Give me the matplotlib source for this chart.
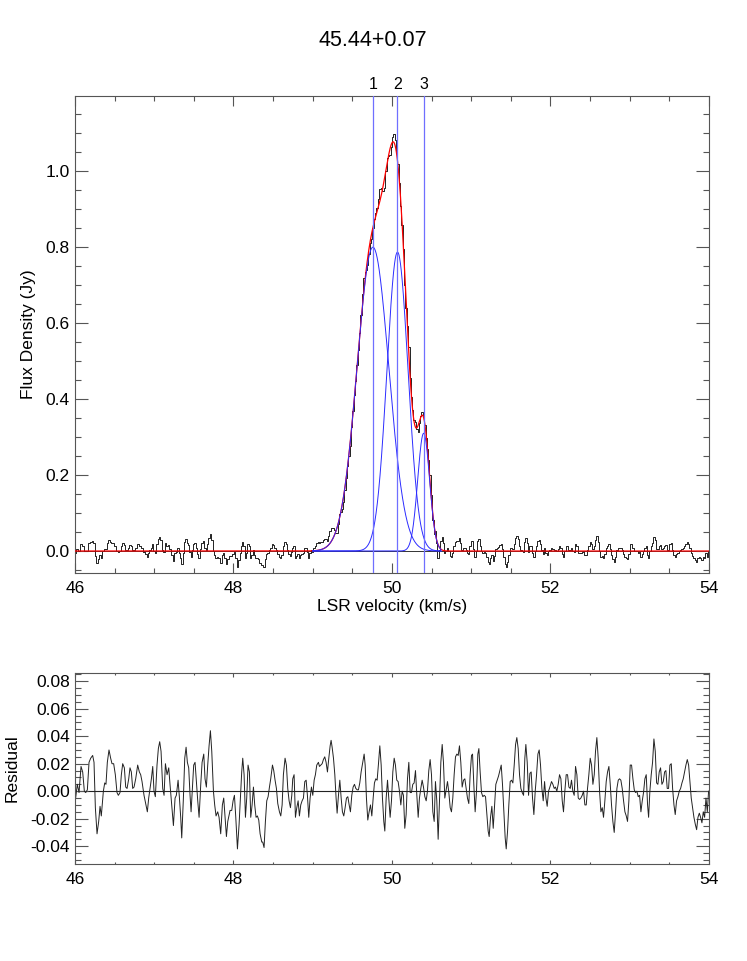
import numpy as np
import matplotlib
matplotlib.use("Agg")
import matplotlib.pyplot as plt
from matplotlib.ticker import MultipleLocator, FormatStrFormatter

plt.rcParams['font.family'] = ['Liberation Sans', 'DejaVu Sans']
plt.rcParams['axes.unicode_minus'] = False

title = "45.44+0.07"
component_labels = ["1", "2", "3"]
centers = [49.76, 50.07, 50.40]
amplitudes = [0.80, 0.787, 0.31]
sigmas = [0.200, 0.133, 0.075]

velocity = [
46.008,46.029,46.051,46.076,46.097,46.118,46.135,46.156,46.177,46.198,46.223,46.240,46.257,46.278,46.299,46.316,46.332,
46.358,46.375,46.391,46.408,46.429,46.450,46.467,46.488,46.509,46.530,46.547,46.568,46.585,46.602,46.623,46.640,46.657,
46.678,46.694,46.711,46.728,46.745,46.766,46.791,46.812,46.829,46.846,46.871,46.892,46.913,46.930,46.947,46.964,46.981,
46.997,47.014,47.035,47.052,47.069,47.086,47.107,47.124,47.141,47.162,47.183,47.199,47.221,47.242,47.263,47.279,47.301,
47.317,47.334,47.347,47.368,47.385,47.402,47.418,47.435,47.452,47.465,47.481,47.498,47.515,47.532,47.549,47.566,47.587,
47.604,47.625,47.641,47.658,47.675,47.692,47.709,47.726,47.747,47.763,47.780,47.801,47.818,47.839,47.860,47.877,47.894,
47.911,47.928,
47.957,47.978,47.995,48.012,48.029,48.050,48.071,48.087,48.104,48.117,48.134,48.151,48.167,48.184,48.201,48.218,48.235,
48.252,48.268,48.285,48.302,48.319,48.336,48.357,48.369,48.386,48.403,48.420,48.437,48.454,48.470,48.492,48.508,48.525,
48.542,48.559,48.580,48.597,48.614,48.630,48.651,48.668,48.685,48.702,48.719,48.736,48.748,48.765,48.782,48.799,48.816,
48.832,48.849,48.866,48.883,48.900,48.917,48.933,48.950,48.967,48.984,49.001,49.018,49.034,49.051,49.072,49.085,49.102,
49.119,49.135,49.152,49.169,49.186,49.203,49.220,49.232,49.245,49.262,49.279,49.295,49.308,49.325,49.342,49.359,49.375,
49.392,49.409,49.426,49.443,49.460,49.476,49.493,49.510,49.527,49.544,49.561,49.577,49.594,49.611,49.632,49.649,49.662,
49.678,49.695,49.712,49.729,49.746,49.763,49.779,49.796,49.813,49.830,49.847,49.864,49.880,49.897,49.910,49.927,49.944,
49.960,
49.977,49.994,50.011,50.028,50.044,50.061,50.078,50.095,50.112,50.129,50.145,50.162,50.179,50.196,50.213,50.230,50.246,
50.263,50.280,50.297,50.314,50.331,50.347,50.364,50.381,50.398,50.415,50.432,50.448,50.465,50.482,50.499,50.516,50.533,
50.549,50.566,50.583,50.600,50.617,50.634,50.650,50.667,50.684,50.701,50.718,50.735,50.751,50.768,50.785,50.802,50.819,
50.836,50.852,50.869,50.886,50.903,50.920,50.937,50.953,50.970,50.987,51.004,51.017,51.033,51.050,51.067,51.084,51.097,
51.113,51.130,51.147,51.164,51.181,51.198,51.214,51.227,51.244,51.261,51.278,51.294,51.311,51.328,51.345,51.362,51.379,
51.395,51.412,51.429,51.442,51.459,51.475,51.492,51.509,51.526,51.543,51.560,51.576,51.593,51.610,51.627,51.644,51.661,
51.677,51.690,51.707,51.724,51.741,51.757,51.774,51.791,51.808,51.825,51.842,51.858,51.875,51.892,51.909,51.926,51.943,
51.959,51.976,51.993,
52.014,52.031,52.048,52.064,52.081,52.098,52.115,52.132,52.149,52.165,52.182,52.199,52.216,52.233,52.250,52.266,52.283,
52.300,52.317,52.334,52.351,52.367,52.384,52.401,52.418,52.435,52.452,52.468,52.485,52.502,52.519,52.536,52.553,52.569,
52.586,52.603,52.620,52.637,52.654,52.670,52.687,52.704,52.721,52.738,52.755,52.771,52.788,52.805,52.822,52.839,52.856,
52.872,52.889,52.906,52.923,52.940,52.957,52.973,52.990,53.007,53.024,53.041,53.058,53.074,53.091,53.108,53.125,53.142,
53.159,53.175,53.192,53.209,53.226,53.239,53.255,53.272,53.289,53.306,53.323,53.340,53.356,53.373,53.390,53.407,53.424,
53.441,53.457,53.474,53.491,53.508,53.525,53.542,53.559,53.575,53.592,53.609,53.626,53.643,53.660,53.676,53.693,53.710,
53.727,53.744,53.761,53.777,53.794,53.811,53.828,53.845,53.862,53.879,53.895,53.912,53.929,53.946,53.963,53.980,53.996,
]

residual = [
-0.005,0.005,-0.001,0.018,0.014,0.000,-0.001,0.001,0.021,0.024,0.026,0.021,-0.012,-0.031,-0.022,-0.011,-0.018,
0.000,0.006,0.005,0.021,0.030,0.024,0.020,0.020,0.012,-0.001,-0.003,-0.001,0.012,0.020,0.017,0.003,0.002,
0.009,0.017,0.014,0.002,0.003,0.009,0.019,0.014,0.012,0.007,-0.003,-0.009,-0.015,-0.005,0.002,0.009,0.018,
0.000,-0.004,0.019,0.031,0.036,0.029,0.002,-0.003,0.020,0.012,0.017,0.005,-0.010,-0.025,-0.005,-0.003,0.008,
-0.004,-0.019,-0.034,-0.005,0.024,0.032,0.021,0.017,-0.003,-0.015,0.002,0.019,0.021,0.007,-0.007,-0.019,0.005,
0.021,0.027,0.009,0.003,0.019,0.033,0.044,0.029,0.000,-0.010,-0.018,-0.015,-0.019,-0.031,-0.010,-0.005,-0.019,
-0.033,-0.022,
-0.014,-0.014,-0.007,-0.003,-0.019,-0.042,-0.024,-0.005,0.014,0.024,0.012,-0.019,-0.005,0.019,0.014,-0.019,-0.010,
0.003,-0.010,-0.019,-0.018,-0.021,-0.031,-0.037,-0.037,-0.041,-0.022,-0.007,-0.004,0.003,0.009,0.019,0.015,0.008,
0.002,-0.009,-0.015,-0.018,-0.010,0.012,0.024,0.019,0.002,-0.007,-0.012,-0.003,0.009,0.012,-0.019,-0.012,-0.007,
-0.018,-0.010,-0.007,-0.005,0.007,0.008,-0.003,-0.019,-0.005,0.003,-0.003,0.008,0.012,0.019,0.021,0.018,0.019,
0.020,0.023,0.025,0.021,0.014,0.024,0.033,0.037,0.032,0.024,0.012,-0.005,-0.016,-0.003,0.008,-0.005,-0.015,
-0.018,-0.012,-0.005,-0.004,-0.010,-0.015,-0.003,0.003,0.005,0.002,0.001,0.001,0.006,0.014,0.021,0.027,0.019,
-0.005,-0.021,-0.015,-0.010,-0.018,-0.005,0.006,0.009,0.008,0.020,0.033,0.019,-0.005,-0.022,-0.029,-0.005,0.008,
-0.005,
-0.019,-0.007,0.014,0.024,0.019,0.008,0.007,0.000,-0.010,0.000,-0.003,-0.027,-0.017,0.009,0.021,-0.001,-0.001,
0.005,0.006,0.015,-0.003,-0.019,-0.005,0.002,0.008,0.003,-0.004,-0.007,0.000,0.015,0.023,0.012,-0.015,-0.022,
0.007,-0.007,-0.035,-0.007,0.021,0.034,0.021,-0.005,0.001,0.007,-0.001,-0.012,-0.015,-0.005,0.012,0.025,0.027,
0.026,0.033,0.021,0.003,0.008,0.009,0.002,-0.005,-0.009,0.012,0.026,0.027,0.005,-0.015,0.000,0.027,0.031,
0.014,-0.001,-0.004,-0.003,-0.004,-0.017,-0.029,-0.033,-0.019,-0.011,-0.027,-0.012,0.005,0.008,0.011,0.015,0.019,
0.005,-0.015,-0.034,-0.042,-0.029,-0.010,0.007,0.008,0.006,0.019,0.034,0.039,0.031,0.012,0.002,-0.001,-0.003,
0.024,0.034,0.021,-0.003,0.013,0.014,-0.005,-0.017,0.000,0.012,0.027,0.030,0.019,0.002,-0.007,0.007,-0.005,
-0.011,0.000,0.003,
0.007,0.005,0.002,0.003,0.000,0.005,0.012,0.009,-0.007,-0.015,0.000,0.012,0.012,0.003,0.002,0.008,0.000,
-0.003,0.018,0.012,-0.005,-0.006,-0.005,-0.003,0.000,-0.010,-0.010,0.002,0.012,0.024,0.019,0.005,0.012,0.029,
0.039,0.024,0.000,-0.015,-0.012,-0.019,-0.007,0.007,0.014,0.018,0.005,-0.010,-0.022,-0.030,-0.015,0.002,0.008,
0.009,0.008,0.002,-0.007,-0.015,-0.018,-0.022,-0.007,0.019,0.019,0.009,0.001,-0.001,0.000,-0.004,-0.003,-0.015,
-0.007,-0.001,0.009,0.012,-0.010,-0.019,0.000,0.012,0.021,0.038,0.029,0.006,0.005,0.014,0.017,0.005,0.007,
0.014,0.015,0.002,0.002,0.019,0.020,0.002,-0.010,-0.017,-0.007,-0.004,0.000,0.002,0.006,0.009,0.014,0.019,
0.023,0.019,0.007,-0.005,-0.012,-0.019,-0.024,-0.028,-0.019,-0.016,-0.019,-0.023,-0.015,-0.019,-0.005,-0.015,0.000,
]

v = np.array(velocity)
res = np.array(residual)


def gauss(x, a, c, s):
    return a * np.exp(-0.5 * ((x - c) / s) ** 2)


def model(x):
    return sum(gauss(x, a, c, s) for a, c, s in zip(amplitudes, centers, sigmas))


spectrum = model(v) + res
vfine = np.linspace(46.0, 54.0, 2001)
vcomp = np.linspace(49.0, 50.62, 800)

fig = plt.figure(figsize=(7.47, 9.61), dpi=100)
ax1 = fig.add_axes([0.1004, 0.4037, 0.8486, 0.4964])
ax2 = fig.add_axes([0.1004, 0.1009, 0.8486, 0.1988])

frame_col = '#555555'
fs = 12.5
for ax in (ax1, ax2):
    for sp in ax.spines.values():
        sp.set_color(frame_col)
        sp.set_linewidth(0.8)
    ax.tick_params(which='both', direction='in', top=True, right=True, colors=frame_col,
                   labelcolor='black', labelsize=fs, width=0.8)
    ax.tick_params(axis='y', which='major', length=9.1, pad=3.6)
    ax.tick_params(axis='y', which='minor', length=4.6)
    ax.set_xlim(46, 54)
    ax.xaxis.set_major_locator(MultipleLocator(2))
    ax.xaxis.set_minor_locator(MultipleLocator(0.5))
    ax.xaxis.set_major_formatter(FormatStrFormatter('%d'))

ax1.tick_params(axis='x', which='major', length=6.9, pad=5.5)
ax1.tick_params(axis='x', which='minor', length=3.4)
ax2.tick_params(axis='x', which='major', length=2.8, pad=6)
ax2.tick_params(axis='x', which='minor', length=1.4)

# top panel
ax1.axhline(0, color='#333333', lw=0.7, zorder=1)
ax1.step(v, spectrum, where='mid', color='#222222', lw=0.7, zorder=2)
ax1.plot(vfine, model(vfine), color='#ff0000', lw=0.9, zorder=3)
for a, c, s in zip(amplitudes, centers, sigmas):
    ax1.plot(vcomp, gauss(vcomp, a, c, s), color='#2b2bff', lw=0.7, zorder=4)
ax1.set_ylim(-0.058, 1.198)
ax1.yaxis.set_major_locator(MultipleLocator(0.2))
ax1.yaxis.set_minor_locator(MultipleLocator(0.05))
ax1.yaxis.set_major_formatter(FormatStrFormatter('%.1f'))
for c, lab in zip(centers, component_labels):
    ax1.axvline(c, color='#6f6fff', lw=0.9, zorder=5)
    ax1.annotate(lab, xy=(c, 1.0), xycoords=ax1.get_xaxis_transform(),
                 xytext=(0, 3.2), textcoords='offset points',
                 ha='center', va='bottom', fontsize=11.5)
ax1.set_xlabel('LSR velocity (km/s)', fontsize=fs, labelpad=2.5)
ax1.set_ylabel('Flux Density (Jy)', fontsize=fs, labelpad=7)
fig.text(0.4993, 1 - 40 / 961, title, ha='center', va='center', fontsize=15.5)

# residual panel
ax2.axhline(0, color='#222222', lw=0.8, zorder=1)
ax2.plot(v, res, color='#222222', lw=0.7, zorder=2)
ax2.set_ylim(-0.053, 0.086)
ax2.yaxis.set_major_locator(MultipleLocator(0.02))
ax2.yaxis.set_minor_locator(MultipleLocator(0.005))
ax2.yaxis.set_major_formatter(FormatStrFormatter('%.2f'))
ax2.set_ylabel('Residual', fontsize=fs, labelpad=8)

fig.savefig('out.png', dpi=100)
